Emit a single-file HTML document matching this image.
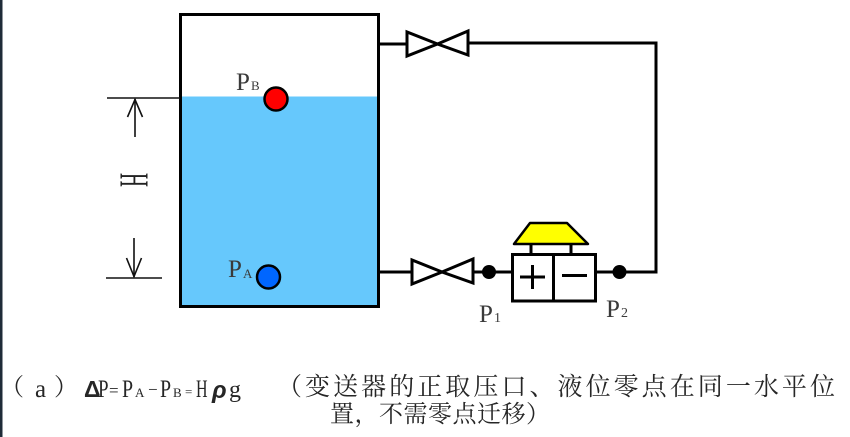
<!DOCTYPE html>
<html><head><meta charset="utf-8"><style>
html,body{margin:0;padding:0;background:#fff;}
body{width:850px;height:437px;overflow:hidden;position:relative;}
svg{position:absolute;left:0;top:0;}
</style></head><body>
<svg width="850" height="437" viewBox="0 0 850 437" xmlns="http://www.w3.org/2000/svg">
<rect x="0" y="0" width="850" height="437" fill="#fff"/>
<rect x="0" y="0" width="2.5" height="437" fill="#1f2b38"/>

<!-- water -->
<rect x="181" y="96.5" width="197" height="209" fill="#66c8fc"/>
<!-- tank -->
<rect x="180.5" y="14.5" width="198" height="292" fill="none" stroke="#000" stroke-width="3"/>

<!-- dimension lines -->
<g stroke="#111" stroke-width="1.6" fill="none">
<line x1="107" y1="98" x2="180" y2="98"/>
<line x1="106" y1="278" x2="162" y2="278"/>
<line x1="135" y1="99" x2="135" y2="137"/>
<polyline points="127.5,117 135,99.5 142.5,117"/>
<line x1="134" y1="238" x2="134" y2="277"/>
<polyline points="126.5,258 134,276.5 141.5,258"/>
</g>
<text transform="translate(134,180) rotate(90) scale(0.47,1)" x="0" y="13.5" text-anchor="middle" font-family="Liberation Serif, serif" font-size="41" fill="#222">H</text>

<!-- circles -->
<circle cx="276" cy="99" r="11.5" fill="#ff0000" stroke="#000" stroke-width="2.5"/>
<circle cx="268.5" cy="277" r="11.5" fill="#0066ff" stroke="#000" stroke-width="2.5"/>

<!-- labels -->
<g font-family="Liberation Serif, serif" fill="#3a3a3a">
<text x="236" y="90" font-size="25">P</text><text x="251" y="90" font-size="13">B</text>
<text x="228" y="277" font-size="25">P</text><text x="243" y="278" font-size="13">A</text>
<text x="479" y="322" font-size="25">P</text><text x="494" y="322" font-size="14">1</text>
<text x="606" y="317" font-size="25">P</text><text x="621" y="317" font-size="14">2</text>
</g>

<!-- pipes -->
<g stroke="#000" stroke-width="3" fill="none">
<line x1="379" y1="44" x2="406" y2="44"/>
<polyline points="468,43 656,43 656,272 595,272"/>
<line x1="379" y1="272" x2="412" y2="272"/>
<line x1="473" y1="272" x2="512" y2="272"/>
</g>

<!-- valves -->
<g stroke="#000" stroke-width="3" fill="#fff" stroke-linejoin="miter">
<polygon points="407,32 407,56 437.5,44"/>
<polygon points="468,31 468,55 437.5,44"/>
<polygon points="412,260 412,284 442,272"/>
<polygon points="473,259 473,283 442,272"/>
</g>

<!-- dots -->
<circle cx="489" cy="272" r="7" fill="#000"/>
<circle cx="619.5" cy="272" r="7" fill="#000"/>

<!-- transmitter -->
<polygon points="530,223 567,223 588,244 514,244" fill="#ffff00" stroke="#000" stroke-width="2.5" stroke-linejoin="round"/>
<g stroke="#000" stroke-width="3" fill="none">
<line x1="531" y1="244" x2="531" y2="254"/>
<line x1="571" y1="244" x2="571" y2="254"/>
</g>
<rect x="512.5" y="254.5" width="83" height="46.5" fill="#fff" stroke="#000" stroke-width="3"/>
<g stroke="#000" stroke-width="3" fill="none">
<line x1="553.5" y1="255" x2="553.5" y2="300"/>
<line x1="520" y1="277" x2="545" y2="277"/>
<line x1="532.5" y1="265" x2="532.5" y2="289"/>
<line x1="562" y1="275.5" x2="587" y2="275.5"/>
</g>

<!-- caption -->
<g fill="#262626" font-family="Liberation Serif, 'Noto Serif CJK SC', serif">
<text x="0" y="395" font-size="24" font-family="'Noto Serif CJK SC', serif">（</text>
<text x="35" y="397" font-size="25">a</text>
<text x="54" y="395" font-size="24" font-family="'Noto Serif CJK SC', serif">）</text>
<text x="84" y="397" font-size="23" font-family="Liberation Sans, sans-serif" font-weight="bold">Δ</text>
<text x="98" y="397" font-size="25" transform="translate(98,0) scale(0.76,1) translate(-98,0)">P</text>
<text x="109" y="396" font-size="17">=</text>
<text x="122" y="397" font-size="25" transform="translate(122,0) scale(0.8,1) translate(-122,0)">P</text>
<text x="135" y="397" font-size="13">A</text>
<text x="148" y="395" font-size="17">−</text>
<text x="160" y="397" font-size="25" transform="translate(160,0) scale(0.8,1) translate(-160,0)">P</text>
<text x="173" y="397" font-size="13">B</text>
<text x="185" y="396" font-size="13">=</text>
<text x="196" y="397" font-size="25" transform="translate(196,0) scale(0.64,1) translate(-196,0)">H</text>
<text x="212" y="398" font-size="24" font-family="Liberation Sans, sans-serif" font-weight="bold" font-style="italic">ρ</text>
<text x="229" y="397" font-size="24">g</text>
<text x="277" y="395" font-size="25" font-family="'Noto Serif CJK SC', serif" textLength="558" lengthAdjust="spacing">（变送器的正取压口、液位零点在同一水平位</text>
<text x="330" y="422" font-size="24" font-family="'Noto Serif CJK SC', serif" textLength="220" lengthAdjust="spacing">置，不需零点迁移）</text>
</g>
</svg>
</body></html>
